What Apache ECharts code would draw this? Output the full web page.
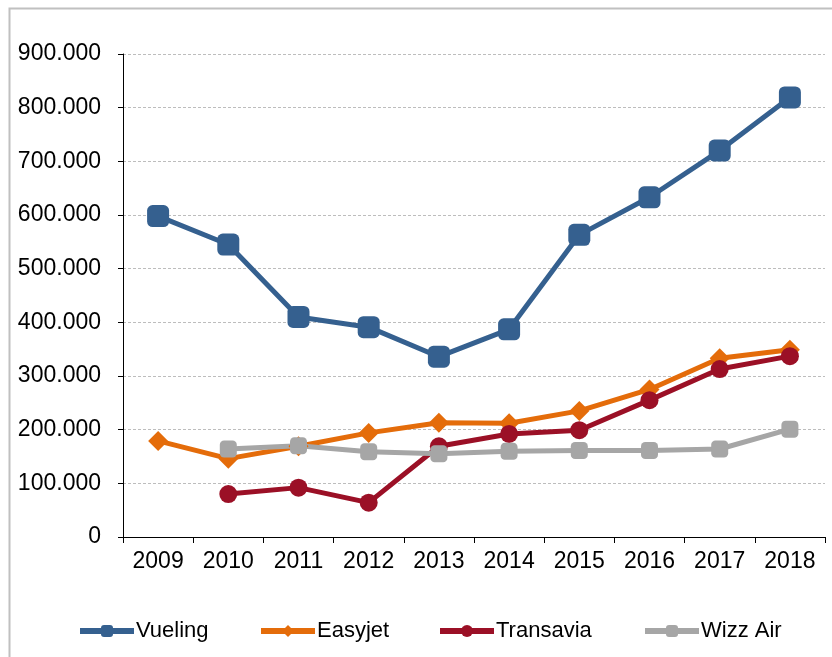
<!DOCTYPE html>
<html>
<head>
<meta charset="utf-8">
<style>
  html, body { margin: 0; padding: 0; background: #fff; }
  #chart { width: 832px; height: 657px; }
</style>
<script src="https://cdn.jsdelivr.net/npm/echarts@6/dist/echarts.min.js"></script>
</head>
<body>
<div id="chart"></div>
<script>
// años (eje x)
var years = ['2009', '2010', '2011', '2012', '2013', '2014', '2015', '2016', '2017', '2018'];

// pasajeros por compañía
var vueling   = [598000, 545000, 410000, 391000, 336000, 387000, 563000, 633000, 720000, 819000];
var easyjet   = [179000, 146000, 169000, 194000, 213000, 212000, 235000, 275000, 333000, 349000];
var transavia = [null, 80000, 92000, 64000, 169000, 192000, 199000, 255000, 313000, 337000];
var wizzAir   = [null, 164000, 170000, 159000, 155000, 160000, 161000, 161000, 164000, 201000];

var yTicks = [0, 100000, 200000, 300000, 400000, 500000, 600000, 700000, 800000, 900000];

var font = 'Liberation Sans, Arial, sans-serif';

// formato con punto de miles: 900000 -> 900.000
function fmt(v) {
  return String(v).replace(/\B(?=(\d{3})+(?!\d))/g, '.');
}

function lineSerie(name, data, color, symbol, size) {
  return {
    name: name,
    type: 'line',
    data: data,
    symbol: symbol,
    symbolSize: size,
    showAllSymbol: true,
    connectNulls: false,
    lineStyle: { color: color, width: 5 },
    itemStyle: { color: color },
    emphasis: { disabled: true }
  };
}

// una leyenda por serie, para colocarlas donde están en el original
function legendAt(name, left) {
  return {
    data: [name],
    left: left,
    top: 615,
    itemWidth: 54,
    itemHeight: 15,
    lineStyle: { width: 6 },
    textStyle: { fontFamily: font, fontSize: 22, color: '#000', padding: [0, 0, 0, -3] },
    selectedMode: false
  };
}

var chart = echarts.init(document.getElementById('chart'));
chart.setOption({
  animation: false,
  backgroundColor: '#fff',
  graphic: [{
    type: 'rect',
    left: 7,
    top: 6,
    shape: { width: 1000, height: 1000 },
    style: { fill: 'none', stroke: '#c0c0c0', lineWidth: 2 },
    silent: true
  }],
  grid: { left: 123, right: 7, top: 54, bottom: 120 },
  legend: [
    legendAt('Vueling', 72),
    legendAt('Easyjet', 253),
    legendAt('Transavia', 432),
    legendAt('Wizz Air', 637)
  ],
  xAxis: {
    type: 'category',
    data: years,
    boundaryGap: true,
    axisLine: { lineStyle: { color: '#000', width: 1 } },
    axisTick: { show: true, length: 6, lineStyle: { color: '#000' } },
    axisLabel: { fontFamily: font, fontSize: 23, color: '#000', margin: 13 },
    splitLine: { show: false }
  },
  yAxis: {
    type: 'value',
    min: yTicks[0],
    max: yTicks[yTicks.length - 1],
    interval: 100000,
    axisLine: { show: true, lineStyle: { color: '#000', width: 1 } },
    axisTick: { show: true, length: 5, lineStyle: { color: '#000' } },
    axisLabel: { fontFamily: font, fontSize: 23, color: '#000', margin: 22, formatter: fmt },
    splitLine: { show: true, lineStyle: { color: '#bdbdbd', type: [3, 2], width: 1 } }
  },
  series: [
    lineSerie('Vueling', vueling, '#35608f', 'roundRect', 22),
    lineSerie('Easyjet', easyjet, '#e46c0a', 'diamond', 20),
    lineSerie('Transavia', transavia, '#9b1026', 'circle', 18),
    lineSerie('Wizz Air', wizzAir, '#a6a6a6', 'roundRect', 17)
  ]
});
</script>
</body>
</html>
